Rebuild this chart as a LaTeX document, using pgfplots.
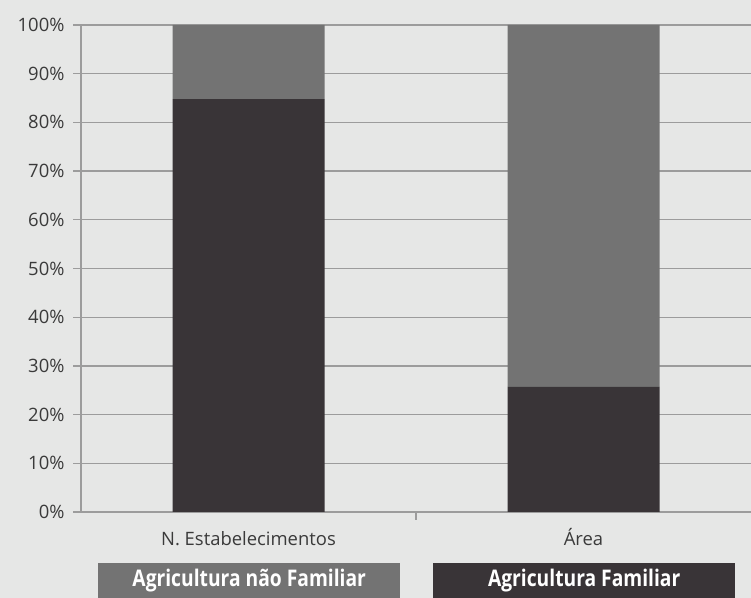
\documentclass[border=0pt]{standalone}
\usepackage{fontspec}
\setmainfont{Open Sans}
\newfontfamily\condfont[FakeStretch=0.84]{Open Sans}
\usepackage{pgfplots}
\pgfplotsset{compat=1.18}
\definecolor{bg}{HTML}{E6E7E6}
\definecolor{fam}{HTML}{393437}
\definecolor{naofam}{HTML}{737373}
\definecolor{gridc}{HTML}{9C9C9C}
\definecolor{txt}{HTML}{3A3A3A}
\begin{document}
\begin{tikzpicture}[x=1bp,y=1bp]
\fill[bg] (0,0) rectangle (751,598);
\begin{axis}[
  at={(81bp,86bp)}, anchor=south west,
  scale only axis, width=670bp, height=487bp,
  xmin=0, xmax=2, ymin=0, ymax=100,
  ybar stacked, bar width=152bp,
  axis x line*=bottom, axis y line*=left,
  axis line style={gridc, line width=1.3bp},
  xtick={0.5,1.5},
  xticklabels={N. Estabelecimentos, Área},
  major x tick style={draw=none},
  minor xtick={1},
  minor x tick style={gridc, line width=1.3bp},
  minor tick length=8bp,
  ytick={0,10,...,100},
  yticklabel={\pgfmathprintnumber{\tick}\%},
  /pgf/number format/assume math mode=true,
  tick align=outside,
  major tick length=8bp,
  ytick style={gridc, line width=1.3bp},
  ymajorgrids, grid style={gridc, line width=1.3bp},
  yticklabel style={font=\fontsize{18.5}{20}\selectfont, text=txt, xshift=-5bp},
  xticklabel style={font=\fontsize{18.5}{20}\selectfont, text=txt, anchor=base, yshift=-26bp},
  clip=false,
]
\addplot+[fill=fam, draw=none] coordinates {(0.5,84.8) (1.5,25.7)};
\addplot+[fill=naofam, draw=none] coordinates {(0.5,15.2) (1.5,74.3)};
\end{axis}
\node[fill=naofam, text=white, minimum width=302bp, minimum height=35bp, inner sep=0pt, anchor=south west, font=\condfont\bfseries\fontsize{23}{25}\selectfont] at (98,0) {Agricultura não Familiar};
\node[fill=fam, text=white, minimum width=302bp, minimum height=35bp, inner sep=0pt, anchor=south west, font=\condfont\bfseries\fontsize{23}{25}\selectfont] at (433,0) {Agricultura Familiar};
\pgfresetboundingbox
\useasboundingbox (0,0) rectangle (751,598);
\end{tikzpicture}
\end{document}
